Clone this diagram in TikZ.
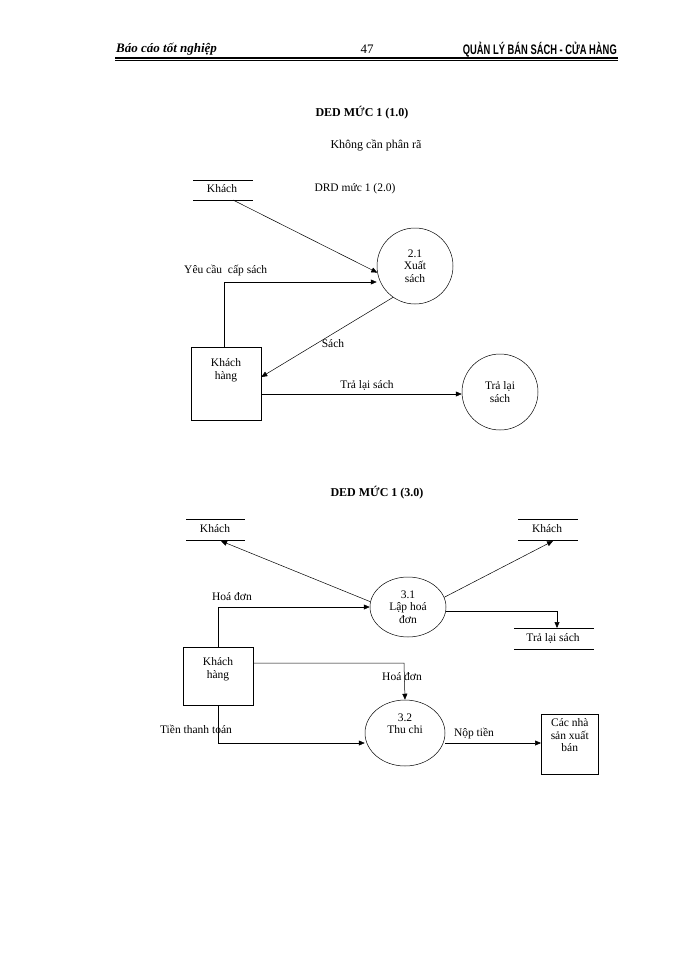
\documentclass[tikz,border=0pt]{standalone}
\usepackage{fontspec}
\setmainfont{Liberation Serif}
\newfontfamily\hdsans{Liberation Sans}
\usetikzlibrary{arrows.meta,shapes.geometric}
\begin{document}
\begin{tikzpicture}[x=1pt,y=-1pt,font=\fontsize{11.5}{12.5}\selectfont,
  arr/.style={-{Triangle[length=6pt,width=5pt]},line width=0.5pt},
  ln/.style={line width=0.5pt},
  proc/.style={draw,circle,line width=0.5pt,minimum size=76pt,align=center,inner sep=0pt},
  ell/.style={draw,ellipse,line width=0.5pt,align=center,inner sep=0pt},
  box/.style={draw,line width=0.5pt,align=center,inner sep=1pt},
  lbl/.style={inner sep=0pt,align=center}]
\useasboundingbox (0,0) rectangle (700,960);
% header
\node[lbl,anchor=west,font=\fontsize{13}{14}\selectfont\bfseries\itshape] (h1) at (116,49) {Báo cáo tốt nghiệp};
\node[lbl,font=\fontsize{13}{14}\selectfont] (h2) at (367,49) {47};
\node[lbl,anchor=east,font=\hdsans\bfseries\fontsize{12}{13}\selectfont] (h3) at (617,50) {\scalebox{0.78}[1.15]{QUẢN LÝ BÁN SÁCH - CỬA HÀNG}};
\coordinate (u1) at (115,58); \coordinate (u2) at (618,58);
\coordinate (u3) at (115,60.5); \coordinate (u4) at (618,60.5);
\draw[line width=1.2pt] (u1) -- (u2);
\draw[line width=0.6pt] (u3) -- (u4);
% titles
\node[lbl,font=\fontsize{12}{13}\selectfont\bfseries] (t1) at (362,113) {DED MỨC 1 (1.0)};
\node[lbl,font=\fontsize{12}{13}\selectfont] (t2) at (376,145) {Không cần phân rã};
\node[lbl,font=\fontsize{12}{13}\selectfont\bfseries] (t3) at (377,493) {DED MỨC 1 (3.0)};
% ---- top diagram
\node[lbl] (k1) at (222,189) {Khách};
\coordinate (k1a) at (193,180); \coordinate (k1b) at (253,180);
\coordinate (k1c) at (193,200); \coordinate (k1d) at (253,200);
\draw[ln] (k1a) -- (k1b); \draw[ln] (k1c) -- (k1d);
\node[lbl] (drd) at (355,189) {DRD mức 1 (2.0)};
\node[proc] (p21) at (415,266) {2.1\\Xuất\\sách};
\node[box,minimum width=70pt,minimum height=73pt] (kh1) at (226,384) {Khách\\hàng\\[18pt]};
\node[proc] (p22) at (500,392) {Trả lại\\sách};
\coordinate (k1e) at (233,200);
\draw[arr] (k1e) -- (p21.190);
\coordinate (c1) at (224,282);
\draw[arr] (kh1.north -| c1) -- (c1) -- (p21.west |- c1);
\node[lbl,anchor=west] (l1) at (184,271) {Yêu cầu\ \ cấp sách};
\draw[arr] (p21.235) -- (kh1.east |- 0,377);
\node[lbl] (l2) at (333,344) {Sách};
\draw[arr] (kh1.east |- 0,394) -- (p22.west |- 0,394);
\node[lbl] (l3) at (367,385) {Trả lại sách};
% ---- bottom diagram
\node[lbl] (k2) at (215,529) {Khách};
\coordinate (k2a) at (186,519); \coordinate (k2b) at (245,519);
\coordinate (k2c) at (186,540); \coordinate (k2d) at (245,540);
\draw[ln] (k2a) -- (k2b); \draw[ln] (k2c) -- (k2d);
\node[lbl] (k3) at (547,529) {Khách};
\coordinate (k3a) at (518,519); \coordinate (k3b) at (578,519);
\coordinate (k3c) at (518,540); \coordinate (k3d) at (578,540);
\draw[ln] (k3a) -- (k3b); \draw[ln] (k3c) -- (k3d);
\node[lbl] (tr) at (553,638) {Trả lại sách};
\coordinate (tra) at (514,628); \coordinate (trb) at (594,628);
\coordinate (trc) at (514,649); \coordinate (trd) at (594,649);
\draw[ln] (tra) -- (trb); \draw[ln] (trc) -- (trd);
\node[ell,minimum width=76pt,minimum height=60pt] (p31) at (408,607) {3.1\\Lập hoá\\đơn};
\node[ell,minimum width=80pt,minimum height=66pt] (p32) at (405,733) {3.2\\Thu chi\\[6pt]};
\node[box,minimum width=70pt,minimum height=58pt] (kh2) at (218,676) {Khách\\hàng\\[4pt]};
\node[box,minimum width=57pt,minimum height=60pt,anchor=north west] (nsx) at (541,714) {Các nhà\\sản xuất\\bán\\[6pt]};
\coordinate (k2e) at (221,541); \coordinate (k3e) at (553,541);
\draw[arr] (p31.172) -- (k2e);
\draw[arr] (p31.15) -- (k3e);
\coordinate (c2) at (557,611);
\draw[arr] (p31.east |- c2) -- (c2) -- (tra -| c2);
\coordinate (c3) at (218,607);
\draw[arr] (kh2.north) -- (c3) -- (p31.west);
\node[lbl] (l4) at (232,597) {Hoá đơn};
\coordinate (c4) at (404,663);
\draw[arr] (kh2.east |- c4) -- (c4) -- (p32.north);
\node[lbl] (l5) at (402,677) {Hoá đơn};
\coordinate (c5) at (218,743);
\draw[arr] (kh2.south) -- (c5) -- (p32.west |- c5);
\node[lbl] (l6) at (196,729) {Tiền thanh toán};
\draw[arr] (p32.east |- c5) -- (nsx.west |- c5);
\node[lbl] (l7) at (474,734) {Nộp tiền};
\end{tikzpicture}
\end{document}
